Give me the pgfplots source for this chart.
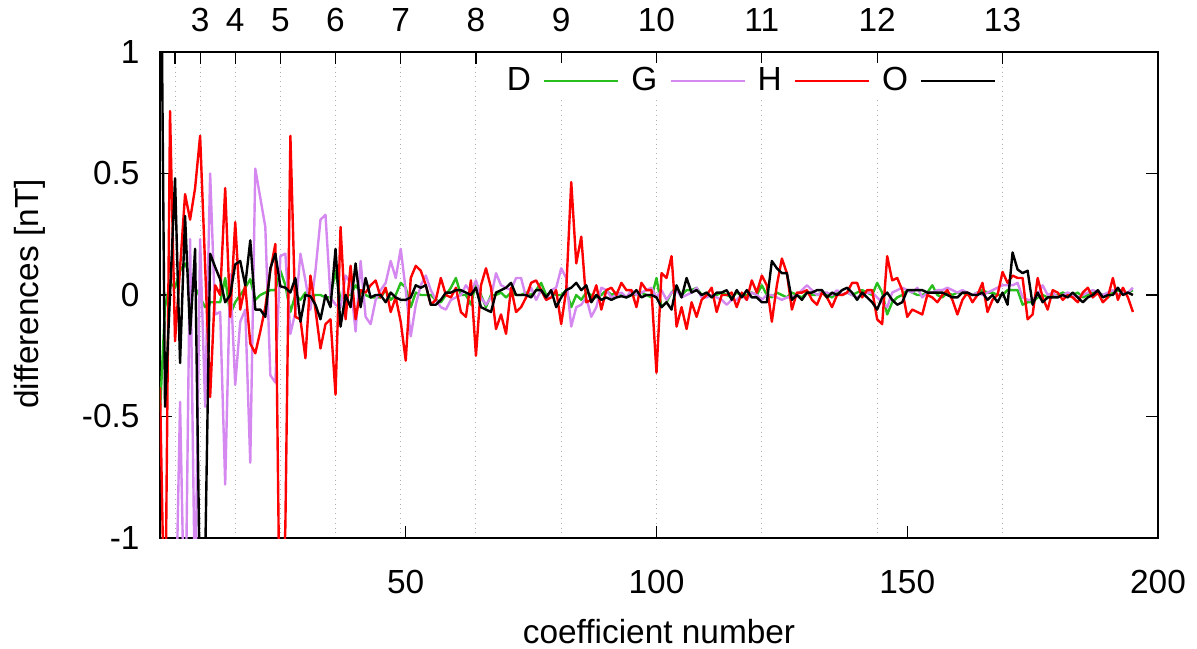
\documentclass[border=0pt]{standalone}
\usepackage{fontspec}
\setmainfont{Liberation Sans}
\usepackage{pgfplots}
\pgfplotsset{compat=1.18}
\usepackage{pgfplotstable}
\definecolor{cD}{RGB}{40,190,30}
\definecolor{cG}{RGB}{212,136,240}
\definecolor{cH}{RGB}{255,0,0}
\definecolor{cO}{RGB}{0,0,0}

\pgfplotstableread{
x y
1 -0.48
2 -0.05
3 0.05
4 0.03
5 0.10
6 0.13
7 0.08
8 0.03
9 -0.01
10 -0.05
11 -0.03
12 -0.03
13 -0.03
14 0.07
15 -0.08
16 -0.03
17 0.00
18 0.03
19 0.065
20 -0.02
21 0.00
22 0.01
23 0.02
24 0.02
25 0.10
26 0.04
27 -0.07
28 0.00
29 -0.02
30 0.01
31 -0.01
32 0.00
33 0.00
34 -0.01
35 -0.01
36 0.10
37 -0.02
38 0.00
39 0.00
40 0.04
41 0.01
42 0.00
43 -0.01
44 -0.01
45 -0.01
46 0.02
47 -0.02
48 0.00
49 0.05
50 0.03
51 -0.05
52 0.01
53 0.00
54 0.00
55 0.00
56 -0.02
57 -0.03
58 0.00
59 0.03
60 0.07
61 0.00
62 0.00
63 -0.04
64 0.05
65 0.00
66 -0.05
67 0.00
68 0.00
69 0.01
70 -0.01
71 0.01
72 0.00
73 0.00
74 0.01
75 0.00
76 0.02
77 0.05
78 0.00
79 0.01
80 0.00
81 0.00
82 0.02
83 -0.05
84 0.00
85 -0.02
86 0.01
87 0.00
88 -0.01
89 0.00
90 0.02
91 0.00
92 0.01
93 0.00
94 -0.01
95 0.00
96 0.00
97 0.01
98 0.00
99 -0.01
100 0.07
101 -0.05
102 -0.03
103 0.01
104 0.03
105 0.00
106 0.02
107 0.02
108 0.03
109 0.00
110 0.01
111 -0.01
112 0.00
113 0.01
114 0.00
115 -0.01
116 0.01
117 0.00
118 0.00
119 0.01
120 0.00
121 0.04
122 0.00
123 -0.01
124 0.01
125 0.00
126 -0.01
127 0.01
128 0.00
129 -0.01
130 0.01
131 0.00
132 0.00
133 0.01
134 0.00
135 -0.01
136 0.01
137 0.00
138 0.01
139 0.00
140 0.01
141 0.02
142 0.01
143 0.00
144 0.05
145 0.01
146 -0.08
147 -0.03
148 -0.01
149 0.00
150 0.02
151 0.01
152 0.00
153 0.00
154 0.01
155 0.04
156 0.00
157 -0.01
158 0.01
159 0.00
160 0.01
161 0.01
162 0.00
163 0.00
164 0.01
165 0.02
166 0.01
167 0.01
168 0.00
169 0.00
170 0.02
171 0.02
172 0.02
173 -0.04
174 -0.03
175 -0.03
176 -0.01
177 0.00
178 -0.01
179 0.00
180 0.00
181 0.01
182 0.00
183 0.00
184 0.01
185 -0.01
186 0.00
187 0.01
188 0.01
189 0.00
190 -0.01
191 0.01
192 0.02
193 0.01
194 0.01
195 0.02
}\tD

\pgfplotstableread{
x y
1 -1.8
2 -1.6
3 -1.4
4 -1.5
5 -0.44
6 -1.5
7 0.23
8 -1.3
9 0.23
10 -0.46
11 0.50
12 -0.08
13 -0.07
14 -0.78
15 0.086
16 -0.37
17 -0.11
18 -0.06
19 -0.69
20 0.52
21 0.40
22 0.28
23 -0.33
24 -0.36
25 0.16
26 0.17
27 -0.16
28 -0.07
29 0.17
30 0.06
31 -0.06
32 0.10
33 0.31
34 0.33
35 -0.01
36 -0.04
37 -0.05
38 0.08
39 0.05
40 -0.15
41 0.14
42 -0.09
43 -0.12
44 -0.02
45 0.02
46 0.05
47 0.14
48 0.07
49 0.19
50 0.02
51 -0.17
52 -0.04
53 0.04
54 0.08
55 0.02
56 -0.02
57 -0.05
58 -0.06
59 -0.02
60 -0.01
61 0.00
62 0.04
63 0.01
64 0.06
65 -0.01
66 -0.04
67 -0.01
68 0.09
69 0.04
70 0.03
71 0.02
72 0.07
73 0.07
74 -0.01
75 0.03
76 -0.02
77 0.02
78 -0.02
79 0.02
80 0.03
81 0.11
82 0.07
83 -0.13
84 -0.05
85 -0.04
86 -0.01
87 -0.09
88 -0.05
89 0.03
90 0.02
91 -0.01
92 0.00
93 0.01
94 -0.01
95 0.02
96 0.00
97 0.01
98 0.02
99 0.03
100 -0.01
101 0.02
102 -0.02
103 0.01
104 0.02
105 -0.01
106 0.00
107 0.01
108 0.03
109 -0.01
110 -0.01
111 0.00
112 -0.01
113 -0.02
114 -0.04
115 -0.02
116 -0.02
117 0.00
118 -0.02
119 0.01
120 0.00
121 -0.02
122 0.00
123 0.00
124 -0.01
125 -0.02
126 -0.01
127 -0.01
128 0.00
129 0.02
130 0.04
131 0.02
132 0.00
133 0.01
134 0.01
135 0.00
136 0.02
137 0.00
138 0.01
139 0.00
140 -0.01
141 0.00
142 0.01
143 0.01
144 -0.01
145 -0.03
146 -0.05
147 0.01
148 0.02
149 0.03
150 0.02
151 0.01
152 0.03
153 -0.01
154 0.01
155 0.01
156 0.02
157 0.02
158 0.03
159 0.02
160 0.01
161 0.02
162 0.01
163 0.00
164 0.01
165 0.00
166 0.01
167 0.02
168 0.03
169 0.04
170 0.04
171 0.04
172 0.05
173 -0.01
174 -0.02
175 -0.02
176 0.00
177 0.04
178 0.00
179 0.01
180 -0.01
181 0.00
182 0.01
183 0.00
184 -0.01
185 0.00
186 0.01
187 0.02
188 0.01
189 0.00
190 0.01
191 0.02
192 0.00
193 0.01
194 0.01
195 0.03
}\tG

\pgfplotstableread{
x y
1 -0.38
2 -1.5
3 0.757
4 -0.19
5 0.11
6 0.415
7 0.31
8 0.44
9 0.655
10 0.12
11 -0.42
12 0.04
13 0.00
14 0.44
15 -0.09
16 0.30
17 -0.06
18 0.04
19 -0.20
20 -0.24
21 -0.15
22 -0.05
23 0.10
24 0.21
25 -1.6
26 -0.95
27 0.655
28 -0.09
29 -0.10
30 -0.26
31 0.08
32 -0.06
33 -0.22
34 -0.12
35 -0.10
36 -0.41
37 0.28
38 -0.10
39 0.12
40 -0.10
41 0.02
42 0.01
43 0.04
44 0.06
45 -0.01
46 0.03
47 -0.07
48 -0.01
49 -0.11
50 -0.27
51 0.07
52 0.12
53 0.10
54 0.04
55 -0.04
56 -0.02
57 0.07
58 0.00
59 -0.01
60 0.03
61 -0.07
62 -0.09
63 0.06
64 -0.25
65 0.04
66 0.11
67 0.03
68 -0.14
69 -0.08
70 -0.16
71 0.03
72 -0.07
73 -0.05
74 -0.01
75 0.05
76 0.06
77 0.02
78 -0.02
79 -0.01
80 0.02
81 -0.12
82 0.02
83 0.465
84 0.13
85 0.24
86 -0.03
87 -0.02
88 0.04
89 -0.06
90 0.02
91 0.03
92 0.00
93 0.05
94 0.02
95 0.02
96 -0.05
97 0.05
98 0.02
99 0.02
100 -0.32
101 0.09
102 0.07
103 0.16
104 -0.13
105 -0.05
106 -0.14
107 -0.03
108 -0.09
109 -0.02
110 0.00
111 0.03
112 -0.07
113 0.00
114 0.00
115 0.01
116 -0.05
117 0.01
118 -0.02
119 0.06
120 0.01
121 0.08
122 0.04
123 -0.11
124 0.04
125 0.15
126 0.09
127 -0.06
128 0.01
129 0.01
130 0.02
131 -0.02
132 -0.04
133 0.01
134 -0.01
135 -0.05
136 0.00
137 0.00
138 0.01
139 0.05
140 0.05
141 -0.01
142 0.02
143 0.02
144 -0.10
145 -0.12
146 0.16
147 0.06
148 0.07
149 0.02
150 -0.09
151 -0.06
152 -0.07
153 -0.08
154 0.00
155 -0.01
156 -0.03
157 0.00
158 0.02
159 -0.02
160 -0.08
161 -0.02
162 0.01
163 -0.03
164 0.00
165 0.05
166 -0.07
167 -0.02
168 0.00
169 0.095
170 0.05
171 0.08
172 0.07
173 0.07
174 -0.10
175 -0.08
176 0.07
177 -0.01
178 -0.06
179 0.02
180 0.01
181 -0.02
182 0.00
183 -0.01
184 -0.03
185 0.01
186 0.03
187 -0.01
188 0.01
189 -0.03
190 -0.01
191 0.07
192 -0.02
193 0.03
194 -0.01
195 -0.07
}\tH

\pgfplotstableread{
x y
1 2.0
2 -0.46
3 0.00
4 0.48
5 -0.28
6 0.325
7 -0.16
8 0.19
9 -1.3
10 -1.1
11 0.17
12 0.115
13 0.064
14 -0.03
15 0.00
16 0.126
17 0.14
18 0.04
19 0.225
20 -0.06
21 -0.06
22 -0.09
23 0.11
24 0.17
25 0.036
26 0.03
27 0.01
28 0.07
29 -0.11
30 0.00
31 -0.005
32 -0.04
33 -0.10
34 0.00
35 -0.05
36 0.19
37 -0.13
38 0.00
39 -0.05
40 0.13
41 -0.05
42 0.07
43 -0.01
44 0.00
45 0.00
46 -0.03
47 0.01
48 -0.01
49 -0.02
50 -0.02
51 -0.01
52 0.04
53 0.03
54 0.04
55 -0.04
56 -0.04
57 -0.02
58 0.01
59 0.01
60 0.02
61 0.02
62 0.01
63 0.00
64 0.03
65 -0.05
66 -0.06
67 -0.07
68 0.01
69 0.02
70 0.03
71 0.05
72 0.00
73 0.00
74 0.00
75 -0.01
76 0.02
77 0.02
78 -0.01
79 0.02
80 -0.05
81 -0.01
82 0.02
83 0.03
84 0.05
85 0.02
86 0.04
87 -0.03
88 0.00
89 -0.02
90 -0.01
91 -0.02
92 -0.01
93 -0.005
94 -0.01
95 0.00
96 0.02
97 -0.01
98 0.00
99 0.00
100 -0.01
101 -0.05
102 -0.03
103 -0.06
104 0.04
105 -0.01
106 0.07
107 0.01
108 0.02
109 0.00
110 0.01
111 -0.01
112 0.01
113 0.01
114 0.02
115 -0.02
116 0.02
117 -0.01
118 0.02
119 -0.01
120 -0.01
121 -0.03
122 -0.03
123 0.14
124 0.11
125 0.09
126 0.09
127 -0.02
128 0.00
129 -0.02
130 0.01
131 0.01
132 0.02
133 0.02
134 -0.01
135 0.01
136 0.00
137 0.02
138 0.03
139 0.01
140 -0.02
141 0.01
142 -0.01
143 -0.03
144 -0.06
145 -0.01
146 0.01
147 -0.02
148 -0.04
149 -0.03
150 0.02
151 0.02
152 0.02
153 0.02
154 0.01
155 0.01
156 0.01
157 0.01
158 0.00
159 -0.01
160 -0.01
161 0.01
162 0.01
163 0.00
164 0.00
165 0.01
166 -0.02
167 0.00
168 -0.03
169 0.01
170 -0.04
171 0.175
172 0.105
173 0.09
174 0.10
175 -0.04
176 0.01
177 -0.03
178 -0.01
179 -0.01
180 -0.01
181 0.00
182 -0.01
183 0.01
184 -0.01
185 -0.03
186 -0.01
187 0.00
188 0.02
189 -0.01
190 0.00
191 0.00
192 0.03
193 0.00
194 0.01
195 0.00
}\tO

\begin{document}
\fontsize{16.7pt}{19pt}\selectfont
\begin{tikzpicture}
\useasboundingbox (-80pt,-55pt) rectangle (518.5pt,269pt);
% top axis: degree ticks and dotted grid
\begin{axis}[
  scale only axis, width=499pt, height=243pt,
  at={(0pt,0pt)}, anchor=south west,
  xmin=1, xmax=200, ymin=-1, ymax=1,
  ytick=\empty,
  xtick={4,9,16,25,36,49,64,81,100,121,144,169},
  xticklabels={,3,4,5,6,7,8,9,10,11,12,13},
  xtick pos=upper, xticklabel pos=upper,
  tick align=inside, major tick length=5.8pt,
  xmajorgrids,
  grid style={dotted, color=black!30, line width=0.5pt},
  axis line style={line width=1pt},
  tick style={black, line width=0.6pt},
  xticklabel style={yshift=4.5pt},
]
\end{axis}
% main axis
\begin{axis}[
  scale only axis, width=499pt, height=243pt,
  at={(0pt,0pt)}, anchor=south west,
  xmin=1, xmax=200, ymin=-1, ymax=1,
  xtick={50,100,150,200}, xticklabels={50,100,150,200},
  xtick pos=lower,
  ytick={-1,-0.5,0,0.5,1}, yticklabels={-1,-0.5,0,0.5,1},
  ytick pos=both,
  tick align=inside, major tick length=5.8pt,
  axis line style={line width=1pt},
  tick style={black, line width=0.6pt},
  xticklabel style={yshift=-10.5pt},
  yticklabel style={xshift=-4.5pt},
  xlabel={coefficient number},
  ylabel={differences [nT]},
  xlabel style={at={(axis description cs:0.5,-0.193)}, anchor=center},
  ylabel style={at={(axis description cs:-0.130,0.502)}, anchor=center},
  legend columns=4,
  legend plot pos=right,
  legend style={at={(axis description cs:0.8427,0.940)}, anchor=east,
    draw=none, fill=white, inner sep=2pt, column sep=6pt,
    nodes={inner sep=0pt}},
  legend image code/.code={\draw[#1] (0pt,0pt) -- (37pt,0pt);},
  every axis plot/.append style={line width=1.2pt, line join=round},
]
\addplot[color=cD] table {\tD};
\addlegendentry{D}
\addplot[color=cG] table {\tG};
\addlegendentry{G}
\addplot[color=cH] table {\tH};
\addlegendentry{H}
\addplot[color=cO] table {\tO};
\addlegendentry{O}
\end{axis}
\end{tikzpicture}
\end{document}
